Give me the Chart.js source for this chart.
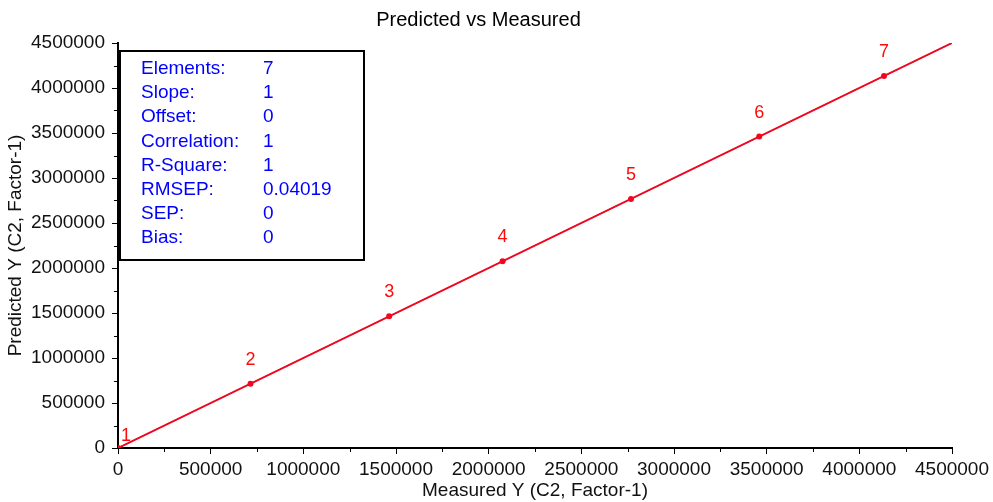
<!DOCTYPE html>
<html>
<head>
<meta charset="utf-8">
<script src="https://cdn.jsdelivr.net/npm/chart.js@4/dist/chart.umd.min.js"></script>
<style>
    html, body { margin: 0; padding: 0; background: #fff; }
    canvas { display: block; }
</style>
</head>
<body>
<canvas id="chart" width="993" height="502"></canvas>
<script>
const sampleIds = ["1", "2", "3", "4", "5", "6", "7"];
const measured = [0, 715000, 1463000, 2075000, 2768000, 3460000, 4133000];
const predicted = [0, 715000, 1463000, 2075000, 2768000, 3460000, 4133000];
const fitX = [0, 4500000];
const fitY = [0, 4500000];
const statNames = ["Elements:", "Slope:", "Offset:", "Correlation:", "R-Square:", "RMSEP:", "SEP:", "Bias:"];
const statValues = ["7", "1", "0", "1", "1", "0.04019", "0", "0"];

const FONT = "'Liberation Sans', Arial, sans-serif";
const RED = "#f0081e";

// numbers next to each sample point
const pointLabels = {
    id: "pointLabels",
    afterDatasetsDraw(chart) {
        const ctx = chart.ctx;
        const meta = chart.getDatasetMeta(0);
        const area = chart.chartArea;
        ctx.save();
        ctx.font = "18px " + FONT;
        ctx.fillStyle = "#ff0a0a";
        ctx.textBaseline = "bottom";
        meta.data.forEach((pt, i) => {
            if (pt.x - area.left < 15) {
                ctx.textAlign = "left";
                ctx.fillText(sampleIds[i], pt.x + 3, pt.y - 3);
            } else {
                ctx.textAlign = "center";
                ctx.fillText(sampleIds[i], pt.x, pt.y - 15);
            }
        });
        ctx.restore();
    }
};

// statistics box in the upper left corner
const statsBox = {
    id: "statsBox",
    afterDraw(chart) {
        const ctx = chart.ctx;
        const area = chart.chartArea;
        const x = area.left + 2, y = area.top + 8, w = 244, h = 209;
        ctx.save();
        ctx.fillStyle = "#fff";
        ctx.fillRect(x, y, w, h);
        ctx.strokeStyle = "#000";
        ctx.lineWidth = 2;
        ctx.strokeRect(x, y, w, h);
        ctx.font = "19px " + FONT;
        ctx.fillStyle = "#0000ff";
        ctx.textBaseline = "middle";
        ctx.textAlign = "left";
        statNames.forEach((name, i) => {
            const ty = y + 18 + i * 24.1;
            ctx.fillText(name, x + 21, ty);
            ctx.fillText(statValues[i], x + 143, ty);
        });
        ctx.restore();
    }
};

// short minor ticks halfway between the labelled ones
const minorTicks = {
    id: "minorTicks",
    afterDraw(chart) {
        const ctx = chart.ctx;
        const xs = chart.scales.x, ys = chart.scales.y;
        ctx.save();
        ctx.strokeStyle = "#000";
        ctx.lineWidth = 1;
        ctx.beginPath();
        for (let v = 250000; v < 4500000; v += 500000) {
            const px = Math.round(xs.getPixelForValue(v)) + 0.5;
            ctx.moveTo(px, xs.top);
            ctx.lineTo(px, xs.top + 4);
            const py = Math.round(ys.getPixelForValue(v)) + 0.5;
            ctx.moveTo(ys.right, py);
            ctx.lineTo(ys.right - 4, py);
        }
        ctx.stroke();
        ctx.restore();
    }
};

const axisCommon = {
    type: "linear",
    min: 0,
    max: 4500000,
    grid: {
        drawOnChartArea: false,
        drawTicks: true,
        tickLength: 6,
        tickColor: "#000",
        tickWidth: 1
    },
    border: { display: true, color: "#000", width: 2 },
    ticks: {
        stepSize: 500000,
        color: "#111",
        font: { family: FONT, size: 19 },
        callback: (v) => String(v)
    }
};

// first dataset is drawn on top
new Chart(document.getElementById("chart"), {
    type: "scatter",
    data: {
        datasets: [
            {
                label: "Samples",
                data: measured.map((v, i) => ({ x: v, y: predicted[i] })),
                showLine: false,
                pointRadius: 3,
                pointBackgroundColor: RED,
                pointBorderColor: RED,
                pointBorderWidth: 0
            },
            {
                label: "Regression",
                data: fitX.map((v, i) => ({ x: v, y: fitY[i] })),
                showLine: true,
                borderColor: RED,
                borderWidth: 2,
                pointRadius: 0
            },
            {
                label: "Target",
                data: fitX.map((v, i) => ({ x: v, y: fitY[i] })),
                showLine: true,
                borderColor: "#5a2bd0",
                borderWidth: 1,
                pointRadius: 0
            }
        ]
    },
    options: {
        responsive: false,
        animation: false,
        devicePixelRatio: 1,
        layout: { padding: { left: 0, right: 36, top: 0, bottom: 0 } },
        plugins: {
            legend: { display: false },
            tooltip: { enabled: false },
            title: {
                display: true,
                text: "Predicted vs Measured",
                color: "#000",
                font: { family: FONT, size: 20, weight: "normal" },
                padding: { top: 8, bottom: 11 }
            }
        },
        scales: {
            x: {
                ...axisCommon,
                position: "bottom",
                ticks: { ...axisCommon.ticks, padding: 4, maxRotation: 0 },
                title: {
                    display: true,
                    text: "Measured Y (C2, Factor-1)",
                    color: "#111",
                    font: { family: FONT, size: 19 },
                    padding: { top: 0, bottom: 0 }
                },
                afterFit: (scale) => { scale.height = 54; }
            },
            y: {
                ...axisCommon,
                position: "left",
                ticks: { ...axisCommon.ticks, padding: 7 },
                title: {
                    display: true,
                    text: "Predicted Y (C2, Factor-1)",
                    color: "#111",
                    font: { family: FONT, size: 19 },
                    padding: { top: 4, bottom: 0 }
                },
                afterFit: (scale) => { scale.width = 118; }
            }
        }
    },
    plugins: [minorTicks, pointLabels, statsBox]
});
</script>
</body>
</html>
